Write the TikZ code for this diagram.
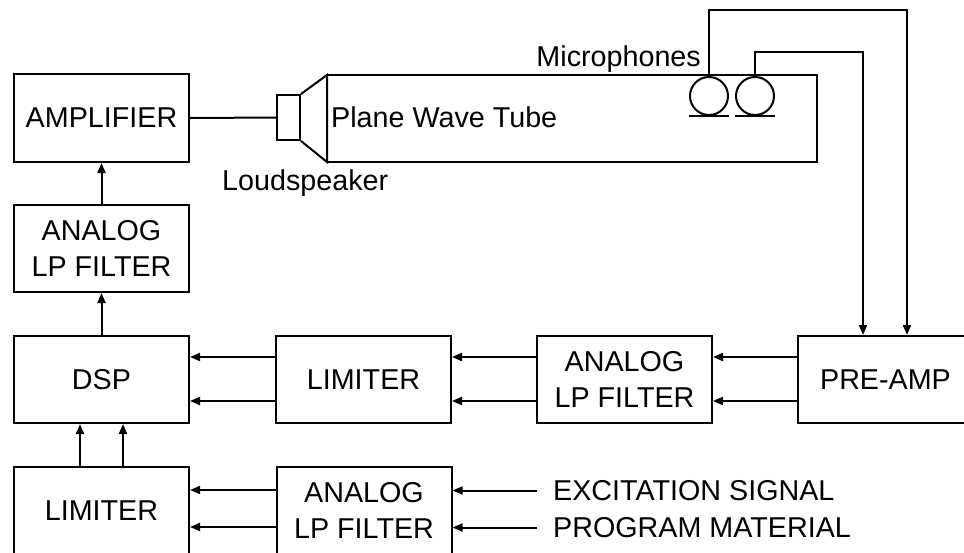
\documentclass[tikz,border=0pt]{standalone}
\usepackage{fontspec}
\setmainfont{Liberation Sans}
\usetikzlibrary{arrows.meta}
\tikzset{
  lbl/.style={font=\fontsize{28.7}{36}\selectfont, inner sep=0pt},
  blk/.style={draw, line width=2pt, minimum width=175pt, minimum height=87pt, inner sep=0pt, align=center, font=\fontsize{28.7}{36}\selectfont},
  wire/.style={line width=2pt},
  arr/.style={line width=2pt, -{Triangle[length=10pt,width=8pt]}},
  mic/.style={draw, circle, line width=2pt, minimum size=38pt, inner sep=0pt}
}
\begin{document}
\begin{tikzpicture}[x=1pt,y=-1pt]
\useasboundingbox (0,0) rectangle (964,552);
\clip (0,0) rectangle (964,552);
% blocks
\node[blk, minimum height=88pt] (amp) at (101.5,118) {AMPLIFIER};
\node[blk] (lpf1) at (101.5,248.5) {ANALOG\\LP FILTER};
\node[blk] (dsp) at (101.5,379.5) {DSP};
\node[blk] (lim1) at (363.5,379.5) {LIMITER};
\node[blk] (lpf2) at (624.5,379.5) {ANALOG\\LP FILTER};
\node[blk] (pre) at (885.5,379.5) {PRE-AMP};
\node[blk] (lim2) at (101.5,510.5) {LIMITER};
\node[blk] (lpf3) at (364,510.5) {ANALOG\\LP FILTER};
% tube and loudspeaker
\draw[wire] (327,75) rectangle (817,162);
\node[draw, line width=2pt, minimum width=23pt, minimum height=45pt, inner sep=0pt] (spk) at (288.5,117.5) {};
\draw[wire, line join=miter] (spk.north east) -- (327,75) -- (327,162) -- (spk.south east);
\node[lbl, anchor=base west] (tube) at (331,127) {Plane Wave Tube};
\node[lbl, anchor=base west] (lsp) at (222,190) {Loudspeaker};
\node[lbl, anchor=base east] (mics) at (701,66) {Microphones};
% microphones
\node[mic] (m1) at (709,96) {};
\node[mic] (m2) at (755,96) {};
\draw[wire] ([xshift=-20pt]m1.south) -- ([xshift=20pt]m1.south);
\draw[wire] ([xshift=-20pt]m2.south) -- ([xshift=20pt]m2.south);
\coordinate (c1) at (907,10);
\coordinate (c2) at (863,52);
\draw[arr] (m1.north) |- (c1) -- (c1 |- pre.north);
\draw[arr] (m2.north) |- (c2) -- (c2 |- pre.north);
% amplifier to speaker
\draw[wire] (amp.east) -- (spk.west);
% vertical chain
\draw[arr] (lpf1.north) -- (amp.south);
\draw[arr] (dsp.north) -- (lpf1.south);
\draw[arr] (lim2.north -| 80,0) -- (dsp.south -| 80,0);
\draw[arr] (lim2.north -| 123,0) -- (dsp.south -| 123,0);
% middle row
\draw[arr] (pre.west |- 0,357) -- (lpf2.east |- 0,357);
\draw[arr] (pre.west |- 0,401) -- (lpf2.east |- 0,401);
\draw[arr] (lpf2.west |- 0,357) -- (lim1.east |- 0,357);
\draw[arr] (lpf2.west |- 0,401) -- (lim1.east |- 0,401);
\draw[arr] (lim1.west |- 0,357) -- (dsp.east |- 0,357);
\draw[arr] (lim1.west |- 0,401) -- (dsp.east |- 0,401);
% bottom row
\node[lbl, anchor=west, inner xsep=16pt] (exc) at (537,490.5) {EXCITATION SIGNAL};
\node[lbl, anchor=west, inner xsep=16pt] (prog) at (537,527.5) {PROGRAM MATERIAL};
\draw[arr] (exc.west) -- (exc.west -| lpf3.east);
\draw[arr] (prog.west) -- (prog.west -| lpf3.east);
\draw[arr] (lpf3.west |- 0,490) -- (lim2.east |- 0,490);
\draw[arr] (lpf3.west |- 0,527) -- (lim2.east |- 0,527);
\end{tikzpicture}
\end{document}
